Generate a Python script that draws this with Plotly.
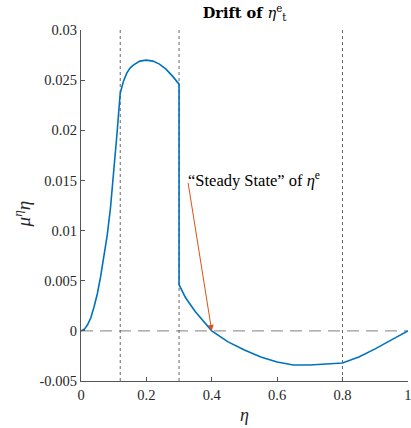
import plotly.graph_objects as go

eta = [0, 0.01, 0.02, 0.03, 0.04, 0.05, 0.06, 0.07, 0.08, 0.09, 0.1, 0.11, 0.12, 0.125,
       0.13, 0.14, 0.15, 0.16, 0.18, 0.2, 0.22, 0.24, 0.26, 0.28, 0.3, 0.3, 0.32, 0.35,
       0.38, 0.4, 0.45, 0.5, 0.55, 0.6, 0.65, 0.7, 0.75, 0.8, 0.85, 0.9, 0.95, 1.0]
drift = [0, 0.00015, 0.0006, 0.0013, 0.0024, 0.0037, 0.0054, 0.0073, 0.0095, 0.0122,
         0.0156, 0.0196, 0.0237, 0.0244, 0.0249, 0.0257, 0.0262, 0.0265, 0.0269, 0.0270,
         0.0269, 0.0266, 0.0261, 0.0254, 0.0246, 0.0046, 0.0033, 0.0019, 0.0007, 0.0,
         -0.0011, -0.0019, -0.0026, -0.0031, -0.0034, -0.0034, -0.0033, -0.0032, -0.0026,
         -0.0018, -0.0009, 0.0]
vlines = [0.12, 0.3, 0.8]
steady_state = 0.4
yticks = [-0.005, 0, 0.005, 0.01, 0.015, 0.02, 0.025, 0.03]
yticklabels = ["-0.005", "0", "0.005", "0.01", "0.015", "0.02", "0.025", "0.03"]
xticks = [0, 0.2, 0.4, 0.6, 0.8, 1]
xticklabels = ["0", "0.2", "0.4", "0.6", "0.8", "1"]
yrange = [-0.005, 0.03]
xrange = [0, 1]

FONT = "Liberation Serif"
fig = go.Figure()

fig.add_trace(go.Scatter(x=xrange, y=[0, 0], mode="lines",
                         line=dict(color="#999999", width=1.4, dash="12px,7px"),
                         hoverinfo="skip"))
for v in vlines:
    fig.add_trace(go.Scatter(x=[v, v], y=yrange, mode="lines",
                             line=dict(color="#666666", width=1, dash="dot"),
                             hoverinfo="skip"))
fig.add_trace(go.Scatter(x=eta, y=drift, mode="lines",
                         line=dict(color="#0072BD", width=1.6)))

fig.add_annotation(x=steady_state, y=0, xref="x", yref="y",
                   ax=0.327, ay=0.0149, axref="x", ayref="y",
                   text="", showarrow=True, arrowhead=2, arrowsize=1.2,
                   arrowwidth=1, arrowcolor="#D95319")
fig.add_annotation(x=0.322, y=0.0151, xref="x", yref="y", xanchor="left",
                   yanchor="middle", showarrow=False,
                   text="“Steady State” of <i>η</i><sup>e</sup>",
                   font=dict(family=FONT, size=16.5, color="#000000"))
# y-axis label
fig.add_annotation(x=-0.18, y=0.475, xref="paper", yref="paper", xanchor="center",
                   yanchor="middle", showarrow=False, textangle=-90,
                   text="<i>μ</i><sup><i>η</i></sup><i>η</i>",
                   font=dict(family=FONT, size=19, color="#262626"))

fig.update_layout(
    width=411, height=428,
    margin=dict(l=81, r=3, t=30, b=47),
    paper_bgcolor="white", plot_bgcolor="white",
    showlegend=False,
    font=dict(family=FONT, size=14, color="#262626"),
    title=dict(text="<b>Drift of </b><i>η</i><sup>e</sup><sub>t</sub>",
               x=0.5, xref="paper", y=0.982, yanchor="top",
               font=dict(family="DejaVu Serif", size=14.5, color="#000000")),
)
tickfont = dict(family=FONT, size=14.5, color="#262626")
fig.update_xaxes(range=[xrange[0], xrange[1] + 0.0005], tickvals=xticks, ticktext=xticklabels,
                 showgrid=False, zeroline=False, showline=True,
                 linecolor="#555555", linewidth=1.3, ticks="inside", ticklen=4,
                 tickcolor="#555555", tickfont=tickfont, automargin=False,
                 ticklabeloverflow="allow",
                 title=dict(text="<i>η</i>", font=dict(family=FONT, size=18, color="#262626"),
                            standoff=6))
fig.update_yaxes(range=yrange, tickvals=yticks, ticktext=yticklabels,
                 showgrid=False, zeroline=False, showline=True,
                 linecolor="#555555", linewidth=1.3, ticks="inside", ticklen=4,
                 tickcolor="#555555", tickfont=tickfont, automargin=False,
                 ticklabeloverflow="allow")

fig.write_html("out.html")
